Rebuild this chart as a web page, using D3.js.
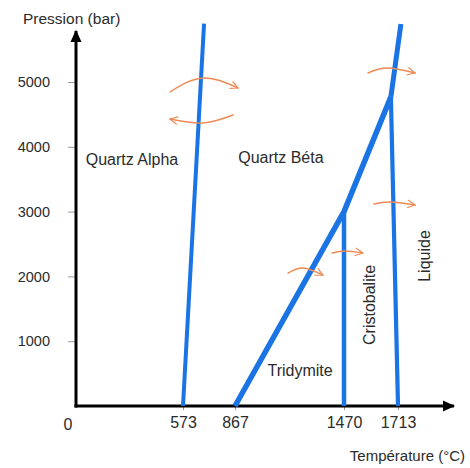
<!DOCTYPE html>
<html>
<head>
<meta charset="utf-8">
<script src="https://cdn.jsdelivr.net/npm/d3@7"></script>
<style>
  html, body { margin: 0; padding: 0; background: #ffffff; }
  svg { display: block; }
  text { font-family: "Liberation Sans", Arial, Helvetica, sans-serif; fill: #2b2b2b; }
</style>
</head>
<body>
<svg id="chart" width="470" height="468"></svg>
<script>
// ---- Data (temperature °C, pressure bar) ----
const xTicks = [573, 867, 1470, 1713];
const yTicks = [1000, 2000, 3000, 4000, 5000];

// Quartz alpha / beta boundary
const alphaBeta = [[573, 0], [692, 5900]];
// Quartz beta / tridymite / cristobalite boundary
const betaTridy = [[867, 0], [1470, 3000], [1681, 4770]];
// Quartz beta / liquid boundary above the triple point
const betaLiquid = [[1681, 4770], [1726, 5895]];
// Tridymite / cristobalite boundary
const tridyCristo = [[1470, 0], [1470, 3000]];
// Cristobalite / liquid boundary
const cristoLiquid = [[1713, 0], [1681, 4770]];

// Phase labels
const phaseNames = ["Quartz Alpha", "Quartz Béta", "Tridymite", "Cristobalite", "Liquide"];
const phaseT = [300, 1121, 1227, 1610, 1857];
const phaseP = [3719, 3750, 463, 1559, 2315];
const phaseRot = [0, 0, 0, -90, -90];

// Transition arrows: start, middle, end (T, P)
const arrows = [
  [[503, 4846], [686, 5062], [884, 4907]],
  [[856, 4491], [686, 4367], [503, 4429]],
  [[1578, 5139], [1663, 5216], [1790, 5139]],
  [[1605, 3117], [1677, 3148], [1790, 3102]],
  [[1404, 2361], [1474, 2392], [1555, 2361]],
  [[1160, 2052], [1243, 2130], [1354, 2020]]
];

// ---- Scales ----
const x = d3.scaleLinear()
  .domain([0, 573, 867, 1470, 1713])
  .range([76, 183, 235, 344, 398]);
const y = d3.scaleLinear().domain([0, 5000]).range([406, 82]);

const svg = d3.select("#chart");
const defs = svg.append("defs");
defs.append("marker")
  .attr("id", "axisArrow")
  .attr("viewBox", "0 -5 10 10")
  .attr("refX", 9).attr("refY", 0)
  .attr("markerWidth", 4.2).attr("markerHeight", 4.2)
  .attr("markerUnits", "strokeWidth")
  .attr("orient", "auto")
  .append("path").attr("d", "M0,-4.5L10,0L0,4.5Z").attr("fill", "#000");
defs.append("marker")
  .attr("id", "orangeArrow")
  .attr("viewBox", "0 -5 10 10")
  .attr("refX", 9).attr("refY", 0)
  .attr("markerWidth", 6.5).attr("markerHeight", 6.5)
  .attr("markerUnits", "strokeWidth")
  .attr("orient", "auto")
  .append("path").attr("d", "M1,-4L9,0L1,4")
  .attr("fill", "none").attr("stroke", "#ee8a55").attr("stroke-width", 1.3)
  .attr("stroke-linecap", "round").attr("stroke-linejoin", "round");

// ---- Axes ----
const yAxis = d3.axisLeft(y).tickValues(yTicks).tickSize(8).tickPadding(18).tickFormat(d3.format("d"));
const gy = svg.append("g").attr("transform", `translate(${x(0)},0)`).call(yAxis);
gy.select(".domain").remove();
gy.selectAll(".tick line").attr("stroke", "#999").attr("stroke-width", 1);
gy.selectAll(".tick text").style("font-size", "14.5px").attr("fill", "#3a3a3a")
  .attr("font-family", "Liberation Sans, Arial, sans-serif");

const xAxis = d3.axisBottom(x).tickValues(xTicks).tickSize(4).tickPadding(7).tickFormat(d3.format("d"));
const gx = svg.append("g").attr("transform", `translate(0,${y(0)})`).call(xAxis);
gx.select(".domain").remove();
gx.selectAll(".tick line").attr("stroke", "#999").attr("stroke-width", 1);
gx.selectAll(".tick text").style("font-size", "16px").attr("fill", "#3a3a3a")
  .attr("font-family", "Liberation Sans, Arial, sans-serif");

// Axis lines with arrowheads
svg.append("line")
  .attr("x1", x(0)).attr("y1", y(0) + 1.5)
  .attr("x2", x(0)).attr("y2", 31)
  .attr("stroke", "#000").attr("stroke-width", 3)
  .attr("marker-end", "url(#axisArrow)");
svg.append("line")
  .attr("x1", x(0) - 1.5).attr("y1", y(0))
  .attr("x2", 454).attr("y2", y(0))
  .attr("stroke", "#000").attr("stroke-width", 3)
  .attr("marker-end", "url(#axisArrow)");

// Origin label
svg.append("text").attr("x", 68).attr("y", y(0) + 24)
  .attr("text-anchor", "middle").style("font-size", "16px").attr("fill", "#3a3a3a").text("0");

// Axis titles
svg.append("text").attr("x", 23).attr("y", 24)
  .style("font-size", "15.5px").text("Pression (bar)");
svg.append("text").attr("x", 465).attr("y", 461)
  .attr("text-anchor", "end").style("font-size", "15px").text("Température (°C)");

// ---- Phase boundaries ----
const line = d3.line().x(d => x(d[0])).y(d => y(d[1]));
const blue = "#1b74e4";
const bounds = [
  { data: alphaBeta, w: 4 },
  { data: betaTridy, w: 5.5 },
  { data: betaLiquid, w: 5 },
  { data: tridyCristo, w: 4.5 },
  { data: cristoLiquid, w: 4.2 }
];
svg.append("g").selectAll("path").data(bounds).join("path")
  .attr("d", d => line(d.data))
  .attr("fill", "none").attr("stroke", blue)
  .attr("stroke-width", d => d.w)
  .attr("stroke-linejoin", "round").attr("stroke-linecap", "butt");

// ---- Phase labels ----
svg.append("g").selectAll("text").data(phaseNames).join("text")
  .attr("transform", (d, i) => `translate(${x(phaseT[i])},${y(phaseP[i])}) rotate(${phaseRot[i]})`)
  .attr("text-anchor", "middle")
  .style("font-size", "16px")
  .text(d => d);

// ---- Transition arrows ----
const curve = d3.line().x(d => x(d[0])).y(d => y(d[1])).curve(d3.curveNatural);
svg.append("g").selectAll("path").data(arrows).join("path")
  .attr("d", d => curve(d))
  .attr("fill", "none").attr("stroke", "#ee8a55")
  .attr("stroke-width", 1.4).attr("stroke-linecap", "round")
  .attr("marker-end", "url(#orangeArrow)");
</script>
</body>
</html>
